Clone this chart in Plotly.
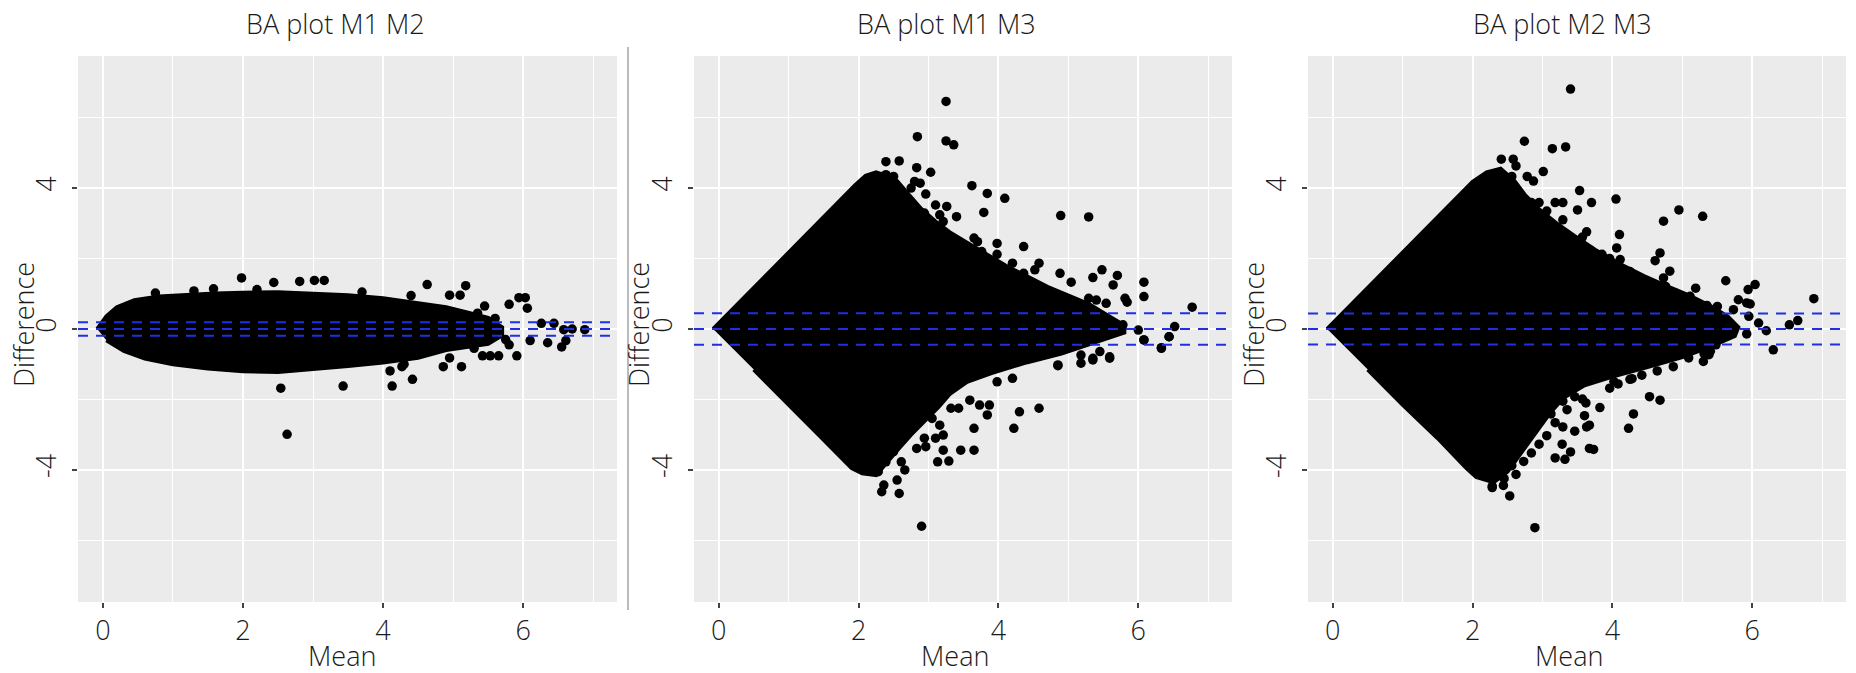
import plotly.graph_objects as go

W, H = 1856, 673

titles = ["BA plot M1 M2", "BA plot M1 M3", "BA plot M2 M3"]
x_title = "Mean"
y_title = "Difference"
x_ticks = [0, 2, 4, 6]
y_ticks = [-4, 0, 4]

# ---- Panel 1 (M1 vs M2): outline of the dense (overplotted) core + individual points
p1_core_x = [-0.08, 0.05, 0.2, 0.45, 0.8, 1.2, 1.6, 2.0, 2.5, 3.0, 3.5, 4.0, 4.5, 4.9, 5.2, 5.5, 5.7,
             5.7, 5.5, 5.2, 4.9, 4.5, 4.0, 3.5, 3.0, 2.5, 2.0, 1.5, 1.0, 0.6, 0.3, 0.05]
p1_core_y = [0.0, 0.36, 0.62, 0.82, 0.92, 0.97, 1.01, 1.03, 1.04, 1.0, 0.96, 0.87, 0.74, 0.62, 0.47, 0.32, 0.05,
             -0.18, -0.42, -0.5, -0.6, -0.82, -0.95, -1.05, -1.14, -1.22, -1.2, -1.12, -1.0, -0.84, -0.62, -0.32]
p1_pts_x = [1.58, 1.98, 2.44, 2.81, 3.02, 3.16, 4.63, 5.18, 4.95, 5.10, 5.45, 5.80, 5.94, 6.03, 6.06, 6.26,
            6.44, 6.58, 6.70, 6.88, 6.35, 6.55, 6.61, 6.10, 5.80, 5.91, 5.53, 5.42, 5.65, 4.86, 5.12, 4.95,
            4.42, 4.10, 4.13, 4.27, 3.43, 2.54, 2.63, 5.35, 5.60, 5.75, 5.30, 4.40, 4.30, 0.75, 1.3, 2.2, 3.7]
p1_pts_y = [1.14, 1.45, 1.32, 1.35, 1.38, 1.38, 1.26, 1.23, 0.96, 0.96, 0.65, 0.70, 0.89, 0.89, 0.59, 0.16,
            0.16, -0.02, 0.0, -0.02, -0.39, -0.51, -0.33, -0.33, -0.45, -0.76, -0.76, -0.76, -0.76, -1.07, -1.07, -0.82,
            -1.43, -1.19, -1.62, -1.07, -1.62, -1.68, -2.99, 0.45, 0.30, -0.30, -0.55, 0.95, -1.0, 1.02, 1.08, 1.12, 1.05]
p1_lines = [0.0, -0.19, 0.19]

# ---- Panel 2 (M1 vs M3)
p2_core_x = [-0.08, 0.5, 1.0, 1.5, 1.95, 2.1, 2.25, 2.4, 2.55, 2.7, 2.9, 3.1, 3.3, 3.55, 3.8, 4.1, 4.4, 4.7,
             5.0, 5.3, 5.55, 5.8,
             5.8, 5.5, 5.2, 4.9, 4.4, 3.9, 3.55, 3.3, 3.15, 2.95, 2.75, 2.55, 2.4, 2.25, 2.05, 1.9, 1.5, 1.0, 0.5]
p2_core_y = [0.0, 1.17, 2.17, 3.17, 4.08, 4.35, 4.45, 4.35, 4.2, 3.85, 3.4, 3.05, 2.75, 2.45, 2.15, 1.8, 1.5, 1.2,
             0.95, 0.7, 0.4, 0.1,
             -0.1, -0.3, -0.5, -0.7, -0.95, -1.25, -1.5, -1.85, -2.2, -2.6, -3.0, -3.45, -3.8, -4.15, -4.1, -3.95,
             -3.15, -2.15, -1.15]
p2_pts_x = [3.25, 2.84, 3.25, 3.36, 3.62, 3.84, 4.09, 3.79, 4.89, 5.29,
            2.39, 2.58, 2.83, 3.03, 2.39, 2.50, 2.80, 2.88, 2.75, 2.96, 2.61, 3.10, 3.26, 2.94, 3.16, 3.21, 3.40,
            3.65, 3.70, 3.98, 3.43, 3.59, 3.76, 3.98, 4.20, 4.36, 4.58, 4.52, 4.36, 4.88, 5.04, 5.48, 5.35, 5.70,
            5.64, 6.08, 6.08, 5.29, 5.40, 5.81, 5.84, 5.54, 6.77, 5.32, 5.78, 6.00, 6.52, 6.44, 6.33, 6.08, 5.18,
            5.35, 5.59, 4.85,
            2.17, 2.28, 2.39, 2.50, 2.61, 2.66, 2.55, 2.36, 2.33, 2.58, 2.83, 2.96, 3.10, 3.21, 3.13, 3.29, 3.46,
            3.65, 3.65, 3.59, 3.73, 3.87, 3.84, 4.22, 4.30, 4.58, 3.98, 4.20, 3.65, 4.85, 5.18, 5.35, 5.59, 5.45,
            6.08, 6.33, 6.44, 2.90, 3.32, 3.43, 3.05, 3.16, 3.21, 2.94]
p2_pts_y = [6.46, 5.46, 5.34, 5.23, 4.07, 3.85, 3.71, 3.31, 3.22, 3.18,
            4.75, 4.77, 4.58, 4.45, 4.38, 4.33, 4.19, 4.14, 4.00, 3.83, 3.81, 3.52, 3.48, 3.29, 3.24, 3.05, 3.19,
            2.58, 2.48, 2.43, 2.48, 2.20, 2.20, 2.12, 1.87, 2.34, 1.87, 1.68, 1.58, 1.58, 1.33, 1.68, 1.46, 1.52,
            1.25, 1.33, 0.92, 0.87, 0.82, 0.87, 0.76, 0.73, 0.62, 0.40, 0.12, -0.03, 0.07, -0.22, -0.53, -0.31, -0.74,
            -0.83, -0.83, -1.04,
            -3.86, -4.05, -3.77, -3.48, -3.77, -4.00, -4.29, -4.43, -4.62, -4.67, -3.39, -3.34, -3.10, -3.44, -3.77,
            -3.75, -3.44, -3.44, -2.82, -2.02, -2.16, -2.16, -2.44, -2.82, -2.35, -2.25, -1.50, -1.40, -1.21, -1.02,
            -0.97, -0.88, -0.79, -0.64, -0.31, -0.55, -0.22, -5.60, -2.25, -2.25, -2.54, -2.73, -3.01, -3.10]
p2_lines = [0.0, -0.45, 0.45]

# ---- Panel 3 (M2 vs M3)
p3_core_x = [-0.08, 0.5, 1.0, 1.5, 2.0, 2.2, 2.4, 2.6, 2.75, 2.95, 3.2, 3.45, 3.75, 4.1, 4.45, 4.8, 5.1, 5.4,
             5.65, 5.8,
             5.75, 5.4, 5.0, 4.5, 4.0, 3.6, 3.3, 3.1, 2.9, 2.7, 2.5, 2.3, 2.05, 1.91, 1.5, 1.0, 0.5]
p3_core_y = [0.0, 1.17, 2.17, 3.17, 4.18, 4.45, 4.55, 4.2, 3.8, 3.4, 3.0, 2.65, 2.25, 1.85, 1.5, 1.2, 0.95, 0.65,
             0.35, 0.05,
             -0.2, -0.5, -0.8, -1.08, -1.35, -1.6, -1.95, -2.4, -2.95, -3.5, -4.05, -4.35, -4.2, -3.95, -3.1, -2.15, -1.15]
p3_pts_x = [3.40, 2.74, 3.14, 3.33, 2.41, 2.58, 3.01, 3.53, 4.05, 3.70, 3.50, 4.95, 4.73, 5.29, 4.10, 4.06,
            4.11, 4.68, 4.61, 4.82, 4.73, 4.76, 4.90, 5.19, 5.11, 5.21, 5.35, 5.50, 5.30, 5.47, 5.62, 5.94, 6.04,
            5.80, 5.92, 5.97, 5.73, 5.95, 6.09, 6.20, 5.92, 6.30, 6.53, 6.65, 6.88, 5.40, 5.30, 5.38, 4.02, 4.28,
            2.62, 2.56, 2.78, 2.87, 2.62, 2.64, 2.84, 2.95, 3.06, 3.18, 3.29, 2.73, 2.95, 3.06, 3.23, 3.29, 3.35,
            3.46, 3.57, 3.63, 3.68, 3.74, 3.85, 3.96, 4.08, 4.25,
            2.62, 2.73, 2.84, 2.95, 3.12, 3.18, 3.29, 3.06, 2.95, 2.84, 2.73, 2.56, 2.33, 2.28, 2.45, 2.62, 3.29,
            3.46, 3.57, 3.35, 3.46, 3.63, 3.96, 4.08, 4.25, 4.42, 4.64, 4.87, 5.09, 5.31, 5.48,
            4.53, 4.68, 4.30, 4.23, 3.82, 3.62, 3.60, 3.67, 3.67, 3.73, 3.40, 3.28, 3.18, 3.32, 2.53, 2.28, 2.44, 2.89]
p3_pts_y = [6.81, 5.33, 5.12, 5.17, 4.82, 4.82, 4.47, 3.93, 3.69, 3.59, 3.38, 3.38, 3.06, 3.20, 2.68, 2.30,
            1.97, 2.16, 1.94, 1.64, 1.45, 1.21, 1.02, 1.16, 0.93, 0.69, 0.67, 0.64, 0.41, 0.31, 1.37, 1.12, 1.26,
            0.83, 0.74, 0.71, 0.55, 0.36, 0.17, -0.05, -0.14, -0.59, 0.12, 0.24, 0.86, -0.63, -0.92, -0.73, -1.49, -1.41,
            4.63, 4.33, 4.33, 4.20, 3.96, 3.71, 3.59, 3.59, 3.35, 3.59, 3.59, 3.22, 2.98, 2.86, 2.86, 3.10, 2.61,
            2.37, 2.61, 2.76, 2.24, 2.00, 2.12, 2.00, 1.75, 1.63,
            -2.29, -2.66, -2.78, -2.54, -2.41, -2.66, -2.78, -3.03, -3.27, -3.52, -3.76, -3.88, -4.13, -4.50, -4.25,
            -4.13, -2.05, -1.92, -1.99, -2.29, -2.90, -2.78, -1.68, -1.56, -1.43, -1.31, -1.19, -1.07, -0.82, -0.70, -0.45,
            -1.92, -2.02, -2.41, -2.82, -2.23, -2.10, -2.46, -2.73, -3.39, -3.42, -3.49, -3.27, -3.66, -3.70, -4.74,
            -4.46, -4.44, -5.64]
p3_lines = [0.0, -0.44, 0.44]

panels = [
    (p1_core_x, p1_core_y, p1_pts_x, p1_pts_y, p1_lines),
    (p2_core_x, p2_core_y, p2_pts_x, p2_pts_y, p2_lines),
    (p3_core_x, p3_core_y, p3_pts_x, p3_pts_y, p3_lines),
]

# ---- layout geometry (pixels)
plot_left = [78, 694, 1308]
plot_right = [617, 1232, 1846]
plot_top, plot_bottom = 56, 602
title_cx = [335, 946, 1562]
mean_cx = [342, 955, 1569]
diff_cx = [23, 638, 1253]

FONT = "Open Sans"
TXT = "#1a1a1a"
FS = 27
BLUE = "#2030e0"

fig = go.Figure()
shapes = [dict(type="line", xref="paper", yref="paper", x0=628 / W, x1=628 / W,
               y0=1 - 610 / H, y1=1 - 47 / H, line=dict(color="#777777", width=1, dash="solid"))]
for i, (cx, cy, ox, oy, lines) in enumerate(panels):
    xa = "x" if i == 0 else f"x{i+1}"
    ya = "y" if i == 0 else f"y{i+1}"
    fig.add_trace(go.Scatter(x=cx, y=cy, mode="lines", fill="toself", fillcolor="black",
                             line=dict(color="black", width=4), xaxis=xa, yaxis=ya,
                             showlegend=False, hoverinfo="skip"))
    fig.add_trace(go.Scatter(x=ox, y=oy, mode="markers", marker=dict(color="black", size=9.5),
                             xaxis=xa, yaxis=ya, showlegend=False))
    for v in lines:
        shapes.append(dict(type="line", xref=f"{xa} domain", yref=ya, x0=0, x1=1, y0=v, y1=v,
                           line=dict(color=BLUE, width=2, dash="10px,8px"), layer="above"))

axis_common = dict(
    showline=False, zeroline=False, showgrid=True, gridcolor="white", gridwidth=2,
    ticks="outside", ticklen=5, tickwidth=2, tickcolor="#444444",
    tickfont=dict(family=FONT, size=FS, color=TXT, weight=300),
)
layout = dict(width=W, height=H, margin=dict(l=0, r=0, t=0, b=0),
              paper_bgcolor="white", plot_bgcolor="#EBEBEB", showlegend=False)
annotations = []
for i in range(3):
    sfx = "" if i == 0 else str(i + 1)
    layout[f"xaxis{sfx}"] = dict(
        axis_common, domain=[plot_left[i] / W, plot_right[i] / W], range=[-0.355, 7.34],
        tickvals=x_ticks, ticktext=[str(t) for t in x_ticks],
        minor=dict(dtick=1, tick0=0, showgrid=True, gridcolor="white", gridwidth=1, ticks=""),
        anchor=f"y{sfx}",
    )
    layout[f"yaxis{sfx}"] = dict(
        axis_common, domain=[1 - plot_bottom / H, 1 - plot_top / H], range=[-7.75, 7.75],
        tickvals=y_ticks, ticktext=[str(t) for t in y_ticks], tickangle=-90, ticklabelstandoff=5,
        minor=dict(dtick=2, tick0=0, showgrid=True, gridcolor="white", gridwidth=1, ticks=""),
        anchor=f"x{sfx}",
    )
    annotations.append(dict(text=titles[i], x=title_cx[i] / W, y=1 - 24 / H, xref="paper", yref="paper",
                            xanchor="center", yanchor="middle", showarrow=False,
                            font=dict(family=FONT, size=FS, color=TXT, weight=300)))
    annotations.append(dict(text=x_title, x=mean_cx[i] / W, y=1 - 655 / H, xref="paper", yref="paper",
                            xanchor="center", yanchor="middle", showarrow=False,
                            font=dict(family=FONT, size=FS, color=TXT, weight=300)))
    annotations.append(dict(text=y_title, x=diff_cx[i] / W, y=1 - 325 / H, xref="paper", yref="paper",
                            xanchor="center", yanchor="middle", showarrow=False, textangle=-90,
                            font=dict(family=FONT, size=FS, color=TXT, weight=300)))
layout["annotations"] = annotations
layout["shapes"] = shapes
fig.update_layout(**layout)

fig.write_html("out.html")
